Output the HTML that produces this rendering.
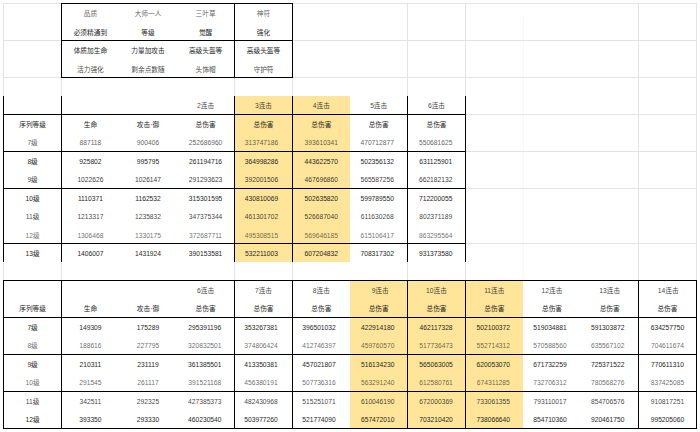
<!DOCTYPE html>
<html lang="zh">
<head>
<meta charset="utf-8">
<title>sheet</title>
<style>
html,body{margin:0;padding:0;background:#fff;}
body{width:700px;height:432px;overflow:hidden;}
svg{display:block;}
text{font-family:"Liberation Sans","Noto Sans CJK SC",sans-serif;font-size:6.7px;fill:#262626;text-anchor:middle;}
</style>
</head>
<body>
<svg width="700" height="432" viewBox="0 0 700 432">
<rect x="0" y="0" width="700" height="432" fill="#fff"/>
<g id="grid" shape-rendering="crispEdges">
<rect x="3" y="3" width="694" height="1" fill="#e3e3e3"/>
<rect x="3" y="40" width="694" height="1" fill="#e3e3e3"/>
<rect x="3" y="77" width="694" height="1" fill="#e3e3e3"/>
<rect x="3" y="114" width="694" height="1" fill="#e3e3e3"/>
<rect x="3" y="151" width="694" height="1" fill="#e3e3e3"/>
<rect x="3" y="188" width="694" height="1" fill="#e3e3e3"/>
<rect x="3" y="243" width="694" height="1" fill="#e3e3e3"/>
<rect x="3" y="3" width="1" height="277" fill="#e3e3e3"/>
<rect x="61" y="3" width="1" height="277" fill="#e3e3e3"/>
<rect x="234" y="3" width="1" height="277" fill="#e3e3e3"/>
<rect x="292" y="3" width="1" height="277" fill="#e3e3e3"/>
<rect x="407" y="3" width="1" height="277" fill="#e3e3e3"/>
<rect x="465" y="3" width="1" height="277" fill="#e3e3e3"/>
<rect x="638" y="3" width="1" height="277" fill="#e3e3e3"/>
<rect x="696" y="3" width="1" height="277" fill="#e3e3e3"/>
<rect x="523" y="17" width="1" height="263" fill="#e3e3e3" fill-opacity="0.3"/>
</g>
<g id="fills" shape-rendering="crispEdges">
<rect x="61" y="3" width="232" height="75" fill="#fff"/>
<rect x="3" y="96" width="463" height="166" fill="#fff"/>
<rect x="3" y="280" width="694" height="149" fill="#fff"/>
<rect x="234" y="96" width="116" height="166" fill="#ffe599"/>
<rect x="350" y="280" width="173" height="148" fill="#ffe599"/>
</g>
<g id="borders" shape-rendering="crispEdges">
<rect x="61" y="3" width="232" height="1" fill="#000"/>
<rect x="61" y="40" width="232" height="1" fill="#000"/>
<rect x="61" y="77" width="232" height="1" fill="#000"/>
<rect x="61" y="3" width="1" height="75" fill="#000"/>
<rect x="234" y="3" width="1" height="75" fill="#000"/>
<rect x="292" y="3" width="1" height="75" fill="#000"/>
<rect x="3" y="114" width="463" height="1" fill="#000"/>
<rect x="3" y="151" width="463" height="1" fill="#000"/>
<rect x="3" y="188" width="463" height="1" fill="#000"/>
<rect x="3" y="243" width="463" height="1" fill="#000"/>
<rect x="3" y="96" width="1" height="166" fill="#000"/>
<rect x="61" y="96" width="1" height="166" fill="#000"/>
<rect x="234" y="96" width="1" height="166" fill="#000"/>
<rect x="292" y="96" width="1" height="166" fill="#000"/>
<rect x="407" y="96" width="1" height="166" fill="#000"/>
<rect x="465" y="96" width="1" height="166" fill="#000"/>
<rect x="3" y="280" width="694" height="1" fill="#000"/>
<rect x="3" y="317" width="694" height="1" fill="#000"/>
<rect x="3" y="354" width="694" height="1" fill="#000"/>
<rect x="3" y="391" width="694" height="1" fill="#000"/>
<rect x="3" y="428" width="694" height="1" fill="#000"/>
<rect x="3" y="280" width="1" height="149" fill="#000"/>
<rect x="61" y="280" width="1" height="149" fill="#000"/>
<rect x="234" y="280" width="1" height="149" fill="#000"/>
<rect x="292" y="280" width="1" height="149" fill="#000"/>
<rect x="407" y="280" width="1" height="149" fill="#000"/>
<rect x="465" y="280" width="1" height="149" fill="#000"/>
<rect x="638" y="280" width="1" height="149" fill="#000"/>
<rect x="696" y="280" width="1" height="149" fill="#000"/>
</g>
<g id="labels">
<text x="90.40" y="16.18" fill-opacity="0.72">品质</text>
<text x="148.00" y="16.18" fill-opacity="0.72">大师一人</text>
<text x="205.60" y="16.18" fill-opacity="0.72">三叶草</text>
<text x="263.50" y="16.18" fill-opacity="0.72">神符</text>
<text x="90.40" y="34.63">必须精通到</text>
<text x="148.00" y="34.63">等级</text>
<text x="205.60" y="34.63">觉醒</text>
<text x="263.50" y="34.63">强化</text>
<text x="90.40" y="53.09">体质加生命</text>
<text x="148.00" y="53.09">力量加攻击</text>
<text x="205.60" y="53.09">高级头盔等</text>
<text x="263.50" y="53.09">高级头盔等</text>
<text x="90.40" y="71.54" fill-opacity="0.88">活力强化</text>
<text x="148.00" y="71.54" fill-opacity="0.88">剩余点数随</text>
<text x="205.60" y="71.54" fill-opacity="0.88">头饰帽</text>
<text x="263.50" y="71.54" fill-opacity="0.88">守护符</text>
<text x="205.60" y="108.45" fill-opacity="0.88">2连击</text>
<text x="263.50" y="108.45" fill-opacity="0.88">3连击</text>
<text x="321.30" y="108.45" fill-opacity="0.88">4连击</text>
<text x="378.70" y="108.45" fill-opacity="0.88">5连击</text>
<text x="436.50" y="108.45" fill-opacity="0.88">6连击</text>
<text x="32.60" y="126.91">序列等级</text>
<text x="90.40" y="126.91">生命</text>
<text x="148.00" y="126.91">攻击·御</text>
<text x="205.60" y="126.91">总伤害</text>
<text x="263.50" y="126.91">总伤害</text>
<text x="321.30" y="126.91">总伤害</text>
<text x="378.70" y="126.91">总伤害</text>
<text x="436.50" y="126.91">总伤害</text>
<text x="32.60" y="145.36" fill-opacity="0.75">7级</text>
<text x="90.40" y="145.36" fill-opacity="0.75">887118</text>
<text x="148.00" y="145.36" fill-opacity="0.75">900406</text>
<text x="205.60" y="145.36" fill-opacity="0.75">252686960</text>
<text x="261.50" y="145.36" fill-opacity="0.75">313747186</text>
<text x="321.30" y="145.36" fill-opacity="0.75">393610341</text>
<text x="377.20" y="145.36" fill-opacity="0.75">470712877</text>
<text x="435.70" y="145.36" fill-opacity="0.75">550681625</text>
<text x="32.60" y="163.82">8级</text>
<text x="90.40" y="163.82">925802</text>
<text x="148.00" y="163.82">995795</text>
<text x="205.60" y="163.82">261194716</text>
<text x="261.50" y="163.82">364998286</text>
<text x="321.30" y="163.82">443622570</text>
<text x="377.20" y="163.82">502356132</text>
<text x="435.70" y="163.82">631125901</text>
<text x="32.60" y="182.27" fill-opacity="0.92">9级</text>
<text x="90.40" y="182.27" fill-opacity="0.92">1022626</text>
<text x="148.00" y="182.27" fill-opacity="0.92">1026147</text>
<text x="205.60" y="182.27" fill-opacity="0.92">291293623</text>
<text x="261.50" y="182.27" fill-opacity="0.92">392001506</text>
<text x="321.30" y="182.27" fill-opacity="0.92">467696860</text>
<text x="377.20" y="182.27" fill-opacity="0.92">565587256</text>
<text x="435.70" y="182.27" fill-opacity="0.92">662182132</text>
<text x="32.60" y="200.73">10级</text>
<text x="90.40" y="200.73">1110371</text>
<text x="148.00" y="200.73">1162532</text>
<text x="205.60" y="200.73">315301595</text>
<text x="261.50" y="200.73">430810069</text>
<text x="321.30" y="200.73">502635820</text>
<text x="377.20" y="200.73">599789550</text>
<text x="435.70" y="200.73">712200055</text>
<text x="32.60" y="219.18" fill-opacity="0.88">11级</text>
<text x="90.40" y="219.18" fill-opacity="0.88">1213317</text>
<text x="148.00" y="219.18" fill-opacity="0.88">1235832</text>
<text x="205.60" y="219.18" fill-opacity="0.88">347375344</text>
<text x="261.50" y="219.18" fill-opacity="0.88">461301702</text>
<text x="321.30" y="219.18" fill-opacity="0.88">526687040</text>
<text x="377.20" y="219.18" fill-opacity="0.88">611630268</text>
<text x="435.70" y="219.18" fill-opacity="0.88">802371189</text>
<text x="32.60" y="237.64" fill-opacity="0.68">12级</text>
<text x="90.40" y="237.64" fill-opacity="0.68">1306468</text>
<text x="148.00" y="237.64" fill-opacity="0.68">1330175</text>
<text x="205.60" y="237.64" fill-opacity="0.68">372687711</text>
<text x="261.50" y="237.64" fill-opacity="0.68">495308515</text>
<text x="321.30" y="237.64" fill-opacity="0.68">569646185</text>
<text x="377.20" y="237.64" fill-opacity="0.68">615106417</text>
<text x="435.70" y="237.64" fill-opacity="0.68">863295564</text>
<text x="32.60" y="256.09">13级</text>
<text x="90.40" y="256.09">1406007</text>
<text x="148.00" y="256.09">1431924</text>
<text x="205.60" y="256.09">390153581</text>
<text x="261.50" y="256.09">532211003</text>
<text x="321.30" y="256.09">607204832</text>
<text x="377.20" y="256.09">708317302</text>
<text x="435.70" y="256.09">931373580</text>
<text x="205.60" y="293.00" fill-opacity="0.88">6连击</text>
<text x="263.50" y="293.00" fill-opacity="0.88">7连击</text>
<text x="321.30" y="293.00" fill-opacity="0.88">8连击</text>
<text x="380.20" y="293.00" fill-opacity="0.88">9连击</text>
<text x="436.50" y="293.00" fill-opacity="0.88">10连击</text>
<text x="494.30" y="293.00" fill-opacity="0.88">11连击</text>
<text x="552.00" y="293.00" fill-opacity="0.88">12连击</text>
<text x="609.70" y="293.00" fill-opacity="0.88">13连击</text>
<text x="668.25" y="293.00" fill-opacity="0.88">14连击</text>
<text x="32.60" y="311.46">序列等级</text>
<text x="90.40" y="311.46">生命</text>
<text x="148.00" y="311.46">攻击·御</text>
<text x="205.60" y="311.46">总伤害</text>
<text x="263.50" y="311.46">总伤害</text>
<text x="321.30" y="311.46">总伤害</text>
<text x="378.70" y="311.46">总伤害</text>
<text x="436.50" y="311.46">总伤害</text>
<text x="494.30" y="311.46">总伤害</text>
<text x="552.00" y="311.46">总伤害</text>
<text x="609.70" y="311.46">总伤害</text>
<text x="667.45" y="311.46">总伤害</text>
<text x="32.60" y="329.91">7级</text>
<text x="90.40" y="329.91">149309</text>
<text x="148.00" y="329.91">175289</text>
<text x="204.80" y="329.91">295391196</text>
<text x="261.00" y="329.91">353267381</text>
<text x="319.00" y="329.91">396501032</text>
<text x="377.70" y="329.91">422914180</text>
<text x="436.10" y="329.91">462117328</text>
<text x="493.30" y="329.91">502100372</text>
<text x="550.00" y="329.91">519034881</text>
<text x="607.70" y="329.91">591303872</text>
<text x="667.45" y="329.91">634257750</text>
<text x="32.60" y="348.37" fill-opacity="0.7">8级</text>
<text x="90.40" y="348.37" fill-opacity="0.7">188616</text>
<text x="148.00" y="348.37" fill-opacity="0.7">227795</text>
<text x="204.80" y="348.37" fill-opacity="0.7">320832501</text>
<text x="261.00" y="348.37" fill-opacity="0.7">374806424</text>
<text x="319.00" y="348.37" fill-opacity="0.7">412746397</text>
<text x="377.70" y="348.37" fill-opacity="0.7">459760570</text>
<text x="436.10" y="348.37" fill-opacity="0.7">517736473</text>
<text x="493.30" y="348.37" fill-opacity="0.7">552714312</text>
<text x="550.00" y="348.37" fill-opacity="0.7">570588560</text>
<text x="607.70" y="348.37" fill-opacity="0.7">635567102</text>
<text x="667.45" y="348.37" fill-opacity="0.7">704611674</text>
<text x="32.60" y="366.82">9级</text>
<text x="90.40" y="366.82">210311</text>
<text x="148.00" y="366.82">231119</text>
<text x="204.80" y="366.82">361385501</text>
<text x="261.00" y="366.82">413350381</text>
<text x="319.00" y="366.82">457021807</text>
<text x="377.70" y="366.82">516134230</text>
<text x="436.10" y="366.82">565063005</text>
<text x="493.30" y="366.82">620053070</text>
<text x="550.00" y="366.82">671732259</text>
<text x="607.70" y="366.82">725371522</text>
<text x="667.45" y="366.82">770611310</text>
<text x="32.60" y="385.28" fill-opacity="0.7">10级</text>
<text x="90.40" y="385.28" fill-opacity="0.7">291545</text>
<text x="148.00" y="385.28" fill-opacity="0.7">261117</text>
<text x="204.80" y="385.28" fill-opacity="0.7">391521168</text>
<text x="261.00" y="385.28" fill-opacity="0.7">456380191</text>
<text x="319.00" y="385.28" fill-opacity="0.7">507736316</text>
<text x="377.70" y="385.28" fill-opacity="0.7">563291240</text>
<text x="436.10" y="385.28" fill-opacity="0.7">612580761</text>
<text x="493.30" y="385.28" fill-opacity="0.7">674311285</text>
<text x="550.00" y="385.28" fill-opacity="0.7">732706312</text>
<text x="607.70" y="385.28" fill-opacity="0.7">780568276</text>
<text x="667.45" y="385.28" fill-opacity="0.7">837425085</text>
<text x="32.60" y="403.73" fill-opacity="0.88">11级</text>
<text x="90.40" y="403.73" fill-opacity="0.88">342511</text>
<text x="148.00" y="403.73" fill-opacity="0.88">292325</text>
<text x="204.80" y="403.73" fill-opacity="0.88">427385373</text>
<text x="261.00" y="403.73" fill-opacity="0.88">482430968</text>
<text x="319.00" y="403.73" fill-opacity="0.88">515251071</text>
<text x="377.70" y="403.73" fill-opacity="0.88">610046190</text>
<text x="436.10" y="403.73" fill-opacity="0.88">672000369</text>
<text x="493.30" y="403.73" fill-opacity="0.88">733061355</text>
<text x="550.00" y="403.73" fill-opacity="0.88">793110017</text>
<text x="607.70" y="403.73" fill-opacity="0.88">854706576</text>
<text x="667.45" y="403.73" fill-opacity="0.88">910817251</text>
<text x="32.60" y="422.19">12级</text>
<text x="90.40" y="422.19">393350</text>
<text x="148.00" y="422.19">293330</text>
<text x="204.80" y="422.19">460230540</text>
<text x="261.00" y="422.19">503977260</text>
<text x="319.00" y="422.19">521774090</text>
<text x="377.70" y="422.19">657472010</text>
<text x="436.10" y="422.19">703210420</text>
<text x="493.30" y="422.19">738066640</text>
<text x="550.00" y="422.19">854710360</text>
<text x="607.70" y="422.19">920461750</text>
<text x="667.45" y="422.19">995205060</text>
</g>
</svg>
</body>
</html>
